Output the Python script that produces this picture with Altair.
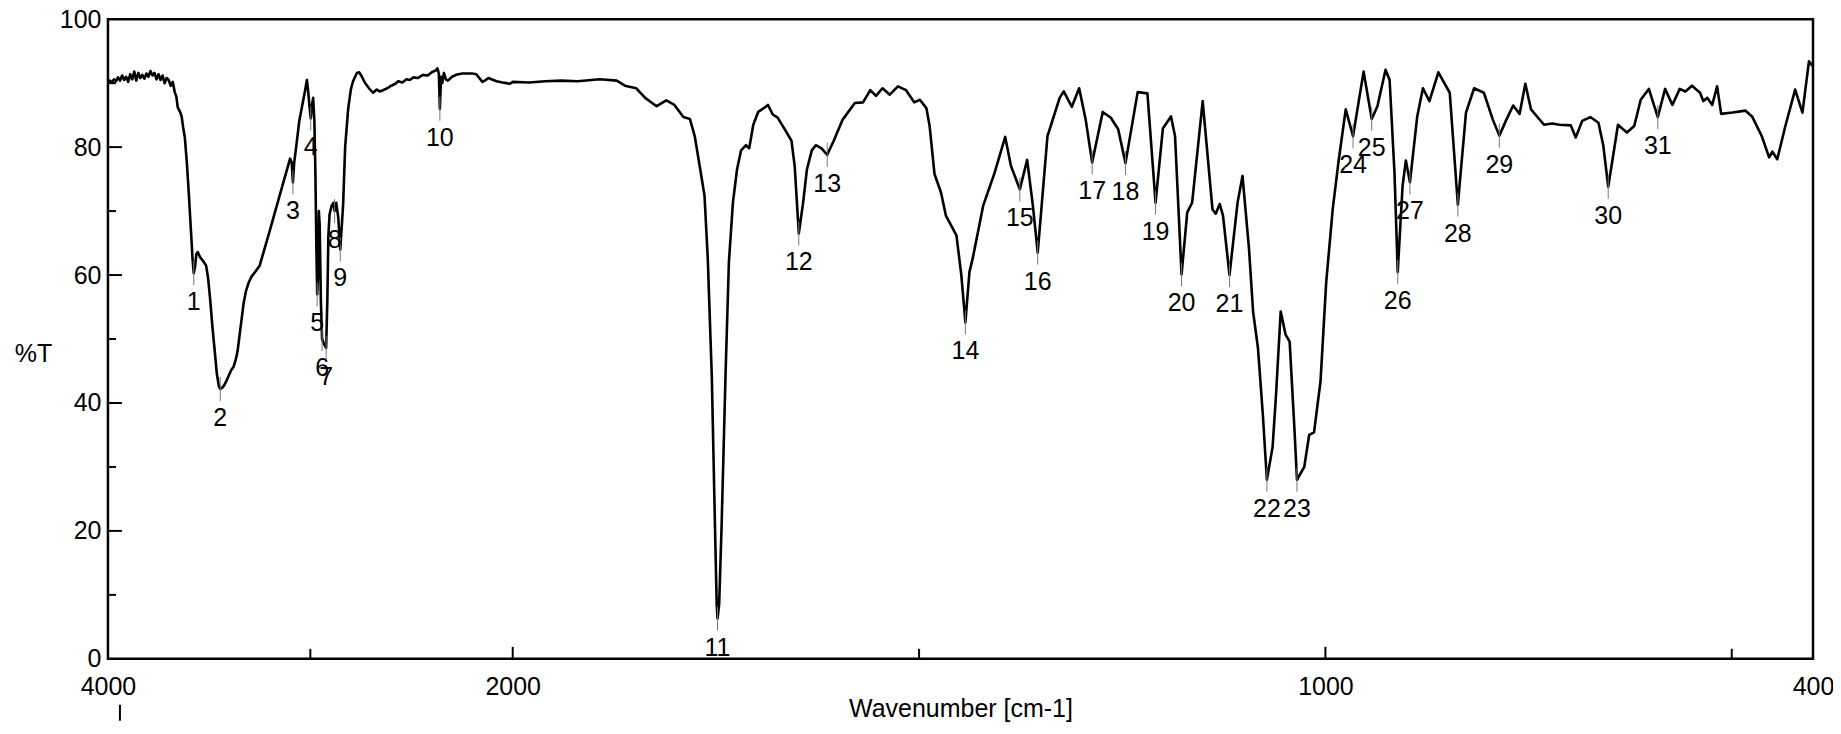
import altair as alt
import pandas as pd

# ---------------- data ----------------
# (wavenumber cm-1, %T) pairs, split by region
region_4000_3250 = [
    (4000, 90.2), (3990, 90.4), (3980, 90.1), (3970, 90.6), (3960, 90.3), (3950, 90.9),
    (3940, 90.4), (3930, 91.2), (3920, 90.5), (3910, 91.0), (3900, 90.2), (3890, 91.4),
    (3880, 90.6), (3870, 91.8), (3860, 90.4), (3850, 91.6), (3840, 90.8), (3830, 91.3),
    (3820, 90.7), (3810, 91.5), (3800, 91.0), (3790, 91.9), (3780, 91.2), (3770, 91.6),
    (3760, 90.6), (3750, 91.4), (3740, 90.5), (3730, 91.2), (3720, 90.0), (3710, 90.8),
    (3700, 90.5), (3690, 89.6), (3680, 90.2), (3670, 88.6), (3662, 87.9), (3655, 86.2),
    (3645, 85.6), (3636, 84.8), (3628, 83.0), (3620, 81.5), (3610, 77.5), (3600, 72.5),
    (3590, 67.0), (3582, 62.5), (3576, 60.3), (3570, 61.2), (3563, 63.3), (3556, 63.6),
    (3545, 62.8), (3530, 62.2), (3515, 61.5), (3505, 59.5), (3495, 56.2), (3484, 52.0),
    (3472, 48.0), (3462, 44.6), (3452, 42.6), (3445, 42.2), (3435, 42.4), (3425, 42.8),
    (3414, 43.5), (3400, 44.5), (3390, 45.2), (3380, 45.6), (3370, 46.6), (3360, 48.0),
    (3350, 50.5), (3340, 53.0), (3330, 55.5), (3318, 57.5), (3305, 58.8), (3290, 59.8),
    (3270, 60.6), (3250, 61.5),
]
region_3250_2800 = [
    (3200, 67.0), (3150, 72.6), (3100, 78.2), (3092, 77.6), (3086, 74.5), (3080, 77.5),
    (3070, 80.0), (3055, 84.0), (3040, 86.5), (3025, 89.0), (3017, 90.5), (3010, 88.5),
    (3003, 86.0), (2998, 84.5), (2992, 86.5), (2986, 87.7), (2980, 84.0), (2975, 76.0),
    (2970, 64.0), (2966, 57.0), (2962, 60.0), (2958, 70.0), (2954, 68.0), (2948, 56.0),
    (2942, 50.0), (2932, 49.2), (2922, 48.6), (2916, 56.0), (2911, 66.0), (2905, 69.5),
    (2895, 70.8), (2886, 71.3), (2880, 70.0), (2872, 71.3), (2862, 69.0), (2852, 64.0),
    (2846, 67.0), (2838, 71.0), (2828, 80.0), (2813, 86.0), (2800, 89.0),
]
region_2800_1800 = [
    (2789, 90.3), (2770, 91.6), (2759, 91.7), (2745, 91.0), (2731, 90.1), (2710, 89.2),
    (2690, 88.5), (2672, 89.0), (2657, 88.7), (2640, 88.9), (2620, 89.2), (2600, 89.6),
    (2580, 89.9), (2566, 90.3), (2545, 90.1), (2525, 90.6), (2509, 90.5), (2490, 90.9),
    (2470, 90.8), (2443, 91.3), (2420, 91.2), (2400, 91.7), (2380, 92.0), (2372, 92.3),
    (2365, 91.5), (2360, 86.0), (2354, 91.0), (2348, 90.0), (2340, 91.6), (2330, 90.6),
    (2320, 90.4), (2300, 91.0), (2280, 91.3), (2250, 91.5), (2200, 91.5), (2180, 91.4),
    (2165, 90.8), (2150, 90.2), (2138, 90.4), (2120, 90.8), (2105, 90.6), (2080, 90.3),
    (2050, 90.1), (2030, 90.0), (2015, 89.9), (2000, 90.2), (1980, 90.1), (1960, 90.3),
    (1940, 90.4), (1920, 90.3), (1893, 90.6), (1872, 90.4), (1862, 89.6), (1848, 89.2),
    (1837, 87.7), (1823, 86.4), (1811, 87.3), (1801, 86.6),
]
region_1800_1300 = [
    (1790, 84.7), (1782, 84.4), (1776, 81.7), (1770, 77.1), (1764, 72.4), (1760, 62.6),
    (1755, 44.0), (1751, 20.0), (1749, 8.5), (1748, 6.3), (1746, 8.5), (1743, 20.7),
    (1738, 45.0), (1734, 62.0), (1729, 71.4), (1724, 76.5), (1719, 79.5), (1713, 80.3),
    (1709, 79.8), (1704, 83.5), (1698, 85.5), (1690, 86.2), (1686, 86.6), (1680, 85.1),
    (1674, 84.6), (1663, 82.3), (1657, 81.0), (1653, 77.0), (1648, 66.5), (1643, 71.0),
    (1638, 76.5), (1632, 79.5), (1627, 80.3), (1620, 79.8), (1613, 78.8), (1605, 81.0),
    (1594, 84.3), (1579, 86.9), (1569, 87.0), (1560, 88.9), (1553, 88.0), (1545, 89.2),
    (1536, 88.2), (1526, 89.5), (1516, 88.9), (1506, 87.0), (1499, 87.4), (1491, 86.1),
    (1487, 83.3), (1481, 75.8), (1473, 72.9), (1467, 69.3), (1454, 66.2), (1448, 60.0),
    (1443, 52.6), (1438, 60.5), (1434, 62.6), (1421, 70.9), (1407, 76.0), (1394, 81.6),
    (1387, 77.1), (1376, 73.4), (1367, 78.0), (1360, 70.9), (1354, 63.5), (1342, 81.7),
    (1327, 87.7), (1322, 88.7), (1312, 86.3), (1303, 89.2),
]
region_1300_800 = [
    (1295, 84.3), (1287, 77.6), (1274, 85.5), (1264, 84.6), (1255, 82.8), (1246, 77.5),
    (1231, 88.6), (1219, 88.4), (1209, 71.3), (1200, 82.9), (1190, 84.8), (1185, 81.7),
    (1177, 60.1), (1170, 69.8), (1164, 71.3), (1151, 87.2), (1139, 70.3), (1135, 69.6),
    (1130, 71.1), (1126, 69.3), (1118, 60.0), (1108, 71.4), (1102, 75.5), (1094, 64.1),
    (1089, 54.3), (1083, 48.6), (1077, 38.2), (1072, 28.0), (1065, 33.1), (1061, 40.8),
    (1055, 54.3), (1049, 50.7), (1044, 49.6), (1038, 35.7), (1035, 28.0), (1026, 30.0),
    (1020, 35.0), (1014, 35.4), (1006, 43.4), (999, 58.9), (991, 70.3), (984, 77.6),
    (975, 85.9), (966, 81.7), (953, 91.8), (943, 84.4), (936, 86.4), (926, 92.1),
    (921, 90.5), (915, 76.0), (911, 60.5), (905, 74.0), (901, 77.9), (896, 74.5),
    (887, 84.8), (880, 89.2), (872, 87.2), (861, 91.7), (847, 88.5), (837, 71.0),
    (827, 85.4), (817, 89.2), (805, 88.5),
]
region_800_400 = [
    (794, 84.3), (786, 81.8), (778, 84.1), (769, 86.5), (761, 85.2), (754, 89.9),
    (747, 85.9), (737, 84.4), (731, 83.5), (721, 83.7), (712, 83.5), (698, 83.4),
    (692, 81.5), (684, 84.1), (674, 84.7), (664, 83.8), (658, 80.2), (652, 73.8),
    (646, 78.6), (640, 83.5), (629, 82.3), (620, 83.3), (612, 87.4), (602, 89.1),
    (591, 84.7), (582, 89.1), (573, 86.6), (564, 89.1), (557, 88.7), (549, 89.6),
    (539, 88.5), (535, 87.2), (530, 87.7), (524, 86.6), (518, 89.5), (513, 85.2),
    (499, 85.4), (483, 85.7), (475, 84.8), (463, 81.7), (454, 78.4), (450, 79.3),
    (444, 78.1), (434, 83.3), (422, 89.0), (413, 85.4), (405, 93.4), (400, 92.6),
]

peak_numbers = list(range(1, 32))
peak_wavenumbers = [3576, 3445, 3086, 2998, 2966, 2942, 2922, 2880, 2852, 2360,
                    1748, 1648, 1613, 1443, 1376, 1354, 1287, 1246, 1209, 1177,
                    1118, 1072, 1035, 966, 943, 911, 896, 837, 786, 652, 591]
peak_transmittance = [60.3, 42.2, 74.5, 84.5, 57.0, 50.0, 48.6, 70.0, 64.0, 86.0,
                      6.3, 66.5, 78.8, 52.6, 73.4, 63.5, 77.6, 77.5, 71.3, 60.1,
                      60.0, 28.0, 28.0, 81.7, 84.4, 60.5, 74.5, 71.0, 81.8, 73.8, 84.7]

x_domain = [4000, 2000, 400]
x_label_values = [4000, 2000, 1000, 400]
x_major_ticks = [2000, 1000]
x_minor_ticks = [3000, 1500, 500]
y_label_values = [0, 20, 40, 60, 80, 100]
y_major_ticks = [20, 40, 60, 80]
y_minor_ticks = [10, 30, 50, 70, 90]

# ---------------- tables ----------------
points = (region_4000_3250 + region_3250_2800 + region_2800_1800 +
          region_1800_1300 + region_1300_800 + region_800_400)
spec_df = pd.DataFrame(points, columns=["wavenumber", "T"])
peak_df = pd.DataFrame({"wavenumber": peak_wavenumbers, "T": peak_transmittance,
                        "label": [str(n) for n in peak_numbers]})
xmaj_df = pd.DataFrame({"wavenumber": x_major_ticks, "T": 0})
xmin_df = pd.DataFrame({"wavenumber": x_minor_ticks, "T": 0})
ymaj_df = pd.DataFrame({"T": y_major_ticks, "wavenumber": 4000})
ymin_df = pd.DataFrame({"T": y_minor_ticks, "wavenumber": 4000})
mark_df = pd.DataFrame({"wavenumber": [4000], "T": [0]})

FONT = "Liberation Sans"
W, H = 1706, 640
xs = alt.Scale(domain=x_domain, range=[0, 405, W], nice=False, zero=False)
ys = alt.Scale(domain=[0, 100], nice=False, zero=False)

x_axis = alt.Axis(values=x_label_values, format="d", title="Wavenumber [cm-1]",
                  ticks=False, domain=False, grid=False, labelPadding=16,
                  labelFlush=False, labelOverlap=False, titleY=50,
                  titleBaseline="middle", titleFontWeight="normal")
y_axis = alt.Axis(values=y_label_values, title="%T", ticks=False, domain=False,
                  grid=False, labelPadding=7, titleAngle=0, titleX=-75, titleY=334,
                  titleAlign="center", titleBaseline="middle", titleFontWeight="normal")


def X(field="wavenumber"):
    return alt.X(f"{field}:Q", scale=xs, axis=x_axis)


def Y(field="T"):
    return alt.Y(f"{field}:Q", scale=ys, axis=y_axis)


line = alt.Chart(spec_df).mark_line(color="black", strokeWidth=2.6,
                                    strokeJoin="round").encode(x=X(), y=Y())

peak_lines = alt.Chart(peak_df).mark_rule(color="#777777", strokeWidth=1,
                                          yOffset=-12, y2Offset=12).encode(
    x=X(), y=Y(), y2="T:Q")

peak_text = alt.Chart(peak_df).mark_text(baseline="top", align="center", dy=17,
                                         fontSize=25, font=FONT, color="black").encode(
    x=X(), y=Y(), text="label:N")


def x_ticks(df, length):
    return alt.Chart(df).mark_rule(color="black", strokeWidth=2,
                                   y2Offset=-length).encode(x=X(), y=Y(), y2="T:Q")


def y_ticks(df, length):
    return alt.Chart(df).mark_rule(color="black", strokeWidth=2,
                                   x2Offset=length).encode(x=X(), x2="wavenumber:Q", y=Y())


corner_mark = alt.Chart(mark_df).mark_rule(color="black", strokeWidth=2, xOffset=12,
                                           yOffset=46, y2Offset=62).encode(
    x=X(), y=Y(), y2="T:Q")

chart = alt.layer(
    line, peak_lines, peak_text,
    x_ticks(xmaj_df, 12), x_ticks(xmin_df, 10),
    y_ticks(ymaj_df, 14), y_ticks(ymin_df, 8),
    corner_mark,
).properties(
    width=W, height=H,
    padding={"left": 100, "top": 11, "right": 20, "bottom": 65},
    autosize=alt.AutoSizeParams(type="none"),
    background="white",
).configure_view(
    stroke="black", strokeWidth=2.5
).configure_axis(
    labelFont=FONT, titleFont=FONT, labelFontSize=25, titleFontSize=25,
    labelColor="black", titleColor="black",
)

chart.save("out.html", embed_options={"renderer": "svg", "actions": False})
